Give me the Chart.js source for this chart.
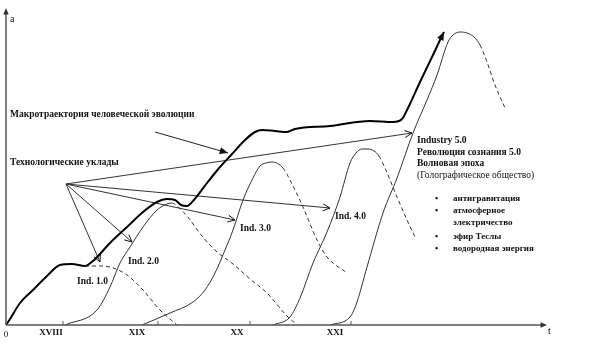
<!DOCTYPE html>
<html>
<head>
<meta charset="utf-8">
<script src="https://cdn.jsdelivr.net/npm/chart.js@4.4.0/dist/chart.umd.min.js"></script>
<style>
  html, body { margin: 0; padding: 0; background: #fff; }
</style>
</head>
<body>
<canvas id="myChart" width="591" height="363"></canvas>
<script>
// макротраектория (t, a)
const macroT = [0, 4, 14, 27, 41, 54, 66, 79, 87, 104, 121, 137, 151, 161, 169, 175, 181, 187, 201, 214, 226, 239, 249, 256, 269, 281, 289, 324, 364, 387, 396, 402, 414, 427, 435, 438];
const macroA = [0, 6, 22, 35, 49, 60, 61, 59, 64, 82, 98, 113, 123, 126, 125, 120, 119, 124, 142, 158, 171, 185, 193, 195, 194, 193, 196, 199, 204, 203, 206, 217, 243, 270, 287, 293];

// технологические уклады, сплошная часть до split, дальше пунктир
const ind1T = [79, 92, 104, 121, 137, 154, 171];
const ind1A = [59, 59, 58, 50, 35, 15, 0];
const ind2T = [59, 91, 104, 114, 124, 137, 151, 161, 166, 171, 181, 196, 211, 227, 244, 261, 281, 291];
const ind2A = [0, 15, 38, 62, 78, 98, 115, 121, 122, 119, 109, 89, 73, 61, 46, 32, 9, 0];
const ind3T = [136, 164, 187, 199, 209, 219, 227, 237, 247, 254, 260, 266, 277, 284, 297, 311, 321, 341];
const ind3A = [0, 12, 23, 35, 52, 75, 95, 125, 147, 159, 162, 163, 157, 145, 118, 85, 68, 52];
const ind4T = [267, 284, 294, 307, 321, 334, 344, 350, 356, 362, 368, 373, 379, 391, 401, 409];
const ind4A = [0, 8, 27, 62, 93, 128, 162, 172, 176, 176, 174, 169, 157, 128, 105, 88];
const ind5T = [324, 344, 350, 361, 377, 391, 407, 421, 431, 442, 447, 454, 461, 468, 474, 481, 489, 499];
const ind5A = [0, 8, 20, 58, 112, 147, 192, 225, 250, 283, 290, 293, 292, 288, 280, 263, 240, 217];
const splits = [null, 8, 12, 11, 14];

// стрелки от "Технологические уклады"
const arrowFrom = [60, 141];
const arrowToT = [94, 126, 229, 324, 406];
const arrowToA = [63, 83, 105, 117, 192];
const macroArrowT = [149, 222];
const macroArrowA = [193, 172];

// ось t
const centuryTicks = [57, 152, 244, 345];
const centuryLabelAt = [45, 131, 231, 329];
const centuryLabels = ['XVIII', 'XIX', 'XX', 'XXI'];

const notes = [
    { text: 'Макротраектория человеческой эволюции', t: 4, a: 210, bold: true },
    { text: 'Технологические уклады', t: 4, a: 162, bold: true },
    { text: 'Ind. 1.0', t: 71, a: 43, bold: true },
    { text: 'Ind. 2.0', t: 122, a: 63, bold: true },
    { text: 'Ind. 3.0', t: 234, a: 96, bold: true },
    { text: 'Ind. 4.0', t: 329, a: 108, bold: true },
    { text: 'Industry 5.0', t: 411, a: 184, bold: true },
    { text: 'Революция сознания 5.0', t: 411, a: 172, bold: true },
    { text: 'Волновая эпоха', t: 411, a: 161, bold: true },
    { text: '(Голографическое общество)', t: 411, a: 150, bold: false }
];
const bulletItems = ['антигравитация', 'атмосферное', 'электричество', 'эфир Теслы', 'водородная энергия'];
const bulletA = [126, 114, 102, 88, 76];
const bulletShown = [true, true, false, true, true];

function zip(ts, as) {
    return ts.map((t, i) => ({ x: t, y: as[i] }));
}

const inds = [[ind1T, ind1A], [ind2T, ind2A], [ind3T, ind3A], [ind4T, ind4A], [ind5T, ind5A]];
const datasets = [];

inds.forEach((pair, k) => {
    const split = splits[k];
    datasets.push({
        label: 'Ind. ' + (k + 1) + '.0',
        data: zip(pair[0], pair[1]),
        borderColor: '#333',
        borderWidth: 1,
        pointRadius: 0,
        cubicInterpolationMode: 'monotone',
        clip: false,
        borderDash: split === null ? [4, 3] : [],
        segment: split === null ? {} : {
            borderDash: c => c.p0DataIndex >= split ? [4, 3] : []
        }
    });
});

datasets.push({
    label: 'macro',
    data: zip(macroT, macroA),
    borderColor: '#000',
    borderWidth: 2,
    pointRadius: 0,
    cubicInterpolationMode: 'monotone',
    clip: false,
    arrow: 'filled'
});

arrowToT.forEach((t, i) => {
    datasets.push({
        label: 'arrow' + i,
        data: [{ x: arrowFrom[0], y: arrowFrom[1] }, { x: t, y: arrowToA[i] }],
        borderColor: '#333',
        borderWidth: 1,
        pointRadius: 0,
        clip: false,
        arrow: 'open'
    });
});

datasets.push({
    label: 'macroArrow',
    data: zip(macroArrowT, macroArrowA),
    borderColor: '#222',
    borderWidth: 1,
    pointRadius: 0,
    clip: false,
    arrow: 'filled'
});

function arrowHead(ctx, x0, y0, x1, y1, size, filled, color) {
    const ang = Math.atan2(y1 - y0, x1 - x0);
    const w = filled ? 0.4 : 0.45;
    const ax = x1 - size * Math.cos(ang - w), ay = y1 - size * Math.sin(ang - w);
    const bx = x1 - size * Math.cos(ang + w), by = y1 - size * Math.sin(ang + w);
    ctx.save();
    ctx.strokeStyle = color;
    ctx.fillStyle = color;
    ctx.lineWidth = 1;
    ctx.beginPath();
    if (filled) {
        ctx.moveTo(x1, y1); ctx.lineTo(ax, ay); ctx.lineTo(bx, by); ctx.closePath(); ctx.fill();
    } else {
        ctx.moveTo(ax, ay); ctx.lineTo(x1, y1); ctx.lineTo(bx, by); ctx.stroke();
    }
    ctx.restore();
}

const drawExtras = {
    id: 'drawExtras',
    afterDatasetsDraw(chart) {
        const ctx = chart.ctx;
        const xs = chart.scales.x, ys = chart.scales.y;
        const x0 = xs.getPixelForValue(0), y0 = ys.getPixelForValue(0);
        const xEnd = xs.getPixelForValue(xs.max), yTop = ys.getPixelForValue(ys.max);

        // оси
        ctx.save();
        ctx.strokeStyle = '#555';
        ctx.lineWidth = 1.5;
        ctx.beginPath();
        ctx.moveTo(x0, y0); ctx.lineTo(x0, yTop + 2);
        ctx.moveTo(x0, y0); ctx.lineTo(xEnd - 2, y0);
        ctx.stroke();
        ctx.lineWidth = 1;
        ctx.beginPath();
        centuryTicks.forEach(t => {
            const px = xs.getPixelForValue(t);
            ctx.moveTo(px, y0); ctx.lineTo(px, y0 - 4);
        });
        ctx.stroke();
        ctx.restore();
        arrowHead(ctx, x0, y0, x0, yTop, 7, true, '#333');
        arrowHead(ctx, x0, y0, xEnd, y0, 7, true, '#333');

        // стрелки у линий
        chart.data.datasets.forEach((ds, i) => {
            if (!ds.arrow) return;
            const pts = chart.getDatasetMeta(i).data;
            const p = pts[pts.length - 1], q = pts[pts.length - 2];
            arrowHead(ctx, q.x, q.y, p.x, p.y, ds.arrow === 'filled' ? 9 : 8, ds.arrow === 'filled', '#111');
        });

        ctx.save();
        ctx.fillStyle = '#111';
        ctx.textBaseline = 'middle';
        ctx.textAlign = 'left';
        ctx.font = '10px "Liberation Serif"';
        ctx.fillText('a', x0 + 4, yTop + 11);
        ctx.fillText('t', xEnd + 1, y0 + 6);
        ctx.font = '9px "Liberation Serif"';
        ctx.textAlign = 'center';
        ctx.fillText('0', x0, y0 + 10);
        ctx.font = 'bold 9px "Liberation Serif"';
        centuryLabels.forEach((lab, i) => {
            ctx.fillText(lab, xs.getPixelForValue(centuryLabelAt[i]), y0 + 8);
        });

        ctx.textAlign = 'left';
        notes.forEach(n => {
            ctx.font = (n.bold ? 'bold ' : '') + '9.5px "Liberation Serif"';
            ctx.fillText(n.text, xs.getPixelForValue(n.t), ys.getPixelForValue(n.a));
        });
        ctx.font = 'bold 9px "Liberation Serif"';
        bulletItems.forEach((txt, i) => {
            const py = ys.getPixelForValue(bulletA[i]);
            if (bulletShown[i]) ctx.fillText('•', xs.getPixelForValue(429), py);
            ctx.fillText(txt, xs.getPixelForValue(447), py);
        });
        ctx.restore();
    }
};

new Chart(document.getElementById('myChart'), {
    type: 'line',
    data: { datasets: datasets },
    options: {
        responsive: false,
        devicePixelRatio: 1,
        animation: false,
        layout: { padding: { left: 6, right: 44, top: 8, bottom: 38 } },
        plugins: { legend: { display: false }, tooltip: { enabled: false } },
        scales: {
            x: { type: 'linear', min: 0, max: 541, display: false },
            y: { type: 'linear', min: 0, max: 317, display: false }
        }
    },
    plugins: [drawExtras]
});
</script>
</body>
</html>
